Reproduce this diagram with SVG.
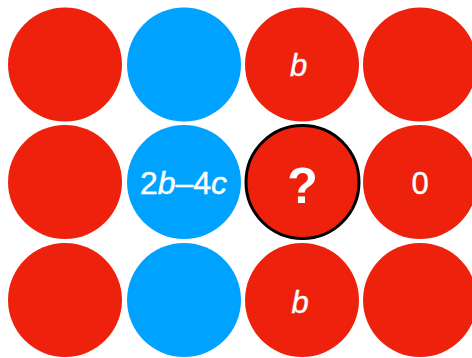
<svg xmlns="http://www.w3.org/2000/svg" width="472" height="358" viewBox="0 0 472 358">
<style>
.r{fill:#EE220C}
.bl{fill:#00A2FF}
.t{fill:#fff;font-family:"Liberation Sans",Arial,sans-serif;font-size:31px;text-anchor:middle;stroke:#fff;stroke-width:0.4px}
.i{font-style:italic}
.q{font-weight:bold;font-size:50px;stroke-width:0}
</style>
<rect width="472" height="358" fill="#fff"/>
<g id="n11"><circle class="r" cx="65" cy="64.5" r="57"/></g>
<g id="n12"><circle class="bl" cx="184" cy="64.5" r="57"/></g>
<g id="n13"><circle class="r" cx="302" cy="64.5" r="57"/><text class="t i" x="298.5" y="75.5">b</text></g>
<g id="n14"><circle class="r" cx="420" cy="64.5" r="57"/></g>
<g id="n21"><circle class="r" cx="65" cy="182" r="57"/></g>
<g id="n22"><circle class="bl" cx="184" cy="182" r="57"/><text class="t" x="183.5" y="194" style="font-size:32px">2<tspan class="i">b</tspan>–4<tspan class="i">c</tspan></text></g>
<g id="n23"><circle class="r" cx="302.5" cy="182" r="56.5" stroke="#000" stroke-width="3"/><text class="t q" x="302.5" y="202.5">?</text></g>
<g id="n24"><circle class="r" cx="420" cy="182" r="57"/><text class="t" x="420" y="194.3">0</text></g>
<g id="n31"><circle class="r" cx="65" cy="300" r="57"/></g>
<g id="n32"><circle class="bl" cx="184" cy="300" r="57"/></g>
<g id="n33"><circle class="r" cx="302" cy="300" r="57"/><text class="t i" x="300" y="312.7">b</text></g>
<g id="n34"><circle class="r" cx="420" cy="300" r="57"/></g>
<g id="connectors"></g>
</svg>
